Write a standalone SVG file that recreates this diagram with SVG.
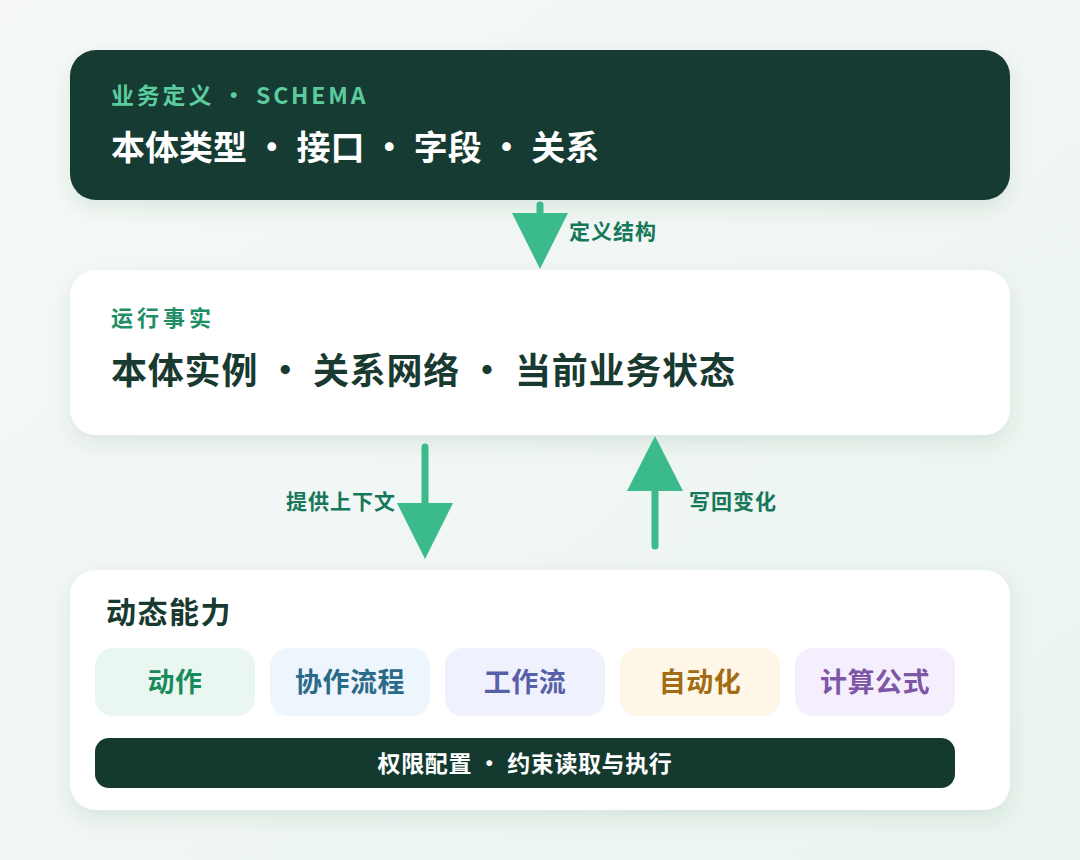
<svg xmlns="http://www.w3.org/2000/svg" width="1080" height="860" viewBox="0 0 1080 860">
<defs>
<linearGradient id="bg" x1="0" y1="0" x2="1" y2="1">
<stop offset="0" stop-color="#f6f9f8"/>
<stop offset="1" stop-color="#eaf4ef"/>
</linearGradient>
<filter id="sh" x="-10%" y="-20%" width="120%" height="150%">
<feDropShadow dx="0" dy="8" stdDeviation="10" flood-color="#1d4a3a" flood-opacity="0.10"/>
</filter>
</defs>
<style>
text{font-family:"Noto Sans CJK SC","Liberation Sans",sans-serif;font-weight:700}
.card{filter:url(#sh)}
.lbl{font-size:21px;fill:#17775a;letter-spacing:1px}
.line{stroke:#3bba8c;stroke-width:7;stroke-linecap:round;fill:none}
.head{fill:#3bba8c}
.chip text{font-size:27px;text-anchor:middle;letter-spacing:0.5px}
</style>
<rect width="1080" height="860" fill="url(#bg)"/>

<g id="schema">
<rect class="card" x="70" y="50" width="940" height="150" rx="26" fill="#183a30"/>
<text x="111" y="104" font-size="23" fill="#5ccc9e" letter-spacing="2.8" font-weight="500">业务定义 · SCHEMA</text>
<text x="111" y="160" font-size="34" fill="#ffffff">本体类型 · 接口 · 字段 · 关系</text>
</g>

<g id="facts">
<rect class="card" x="70" y="270" width="940" height="165" rx="26" fill="#ffffff"/>
<text x="111" y="326" font-size="22" fill="#1e8f65" font-weight="500" letter-spacing="4">运行事实</text>
<text x="111" y="384" font-size="36" fill="#183a30" letter-spacing="0.8">本体实例 · 关系网络 · 当前业务状态</text>
</g>

<g id="dynamic">
<rect class="card" x="70" y="570" width="940" height="240" rx="26" fill="#ffffff"/>
<text x="106" y="623" font-size="30" fill="#183a30" letter-spacing="1.5">动态能力</text>
<g class="chip" id="chip-action">
<rect x="95" y="648" width="160" height="68" rx="18" fill="#eaf7f1"/>
<text x="175" y="692" fill="#1a8a5d">动作</text>
</g>
<g class="chip" id="chip-collab">
<rect x="270" y="648" width="160" height="68" rx="18" fill="#edf5fd"/>
<text x="350" y="692" fill="#2c6a8a">协作流程</text>
</g>
<g class="chip" id="chip-workflow">
<rect x="445" y="648" width="160" height="68" rx="18" fill="#eff2fd"/>
<text x="525" y="692" fill="#5861a8">工作流</text>
</g>
<g class="chip" id="chip-auto">
<rect x="620" y="648" width="160" height="68" rx="18" fill="#fef6e6"/>
<text x="700" y="692" fill="#a16c14">自动化</text>
</g>
<g class="chip" id="chip-formula">
<rect x="795" y="648" width="160" height="68" rx="18" fill="#f5eefd"/>
<text x="875" y="692" fill="#7e56a6">计算公式</text>
</g>
<g id="perm">
<rect x="95" y="738" width="860" height="50" rx="14" fill="#143a30"/>
<text x="525" y="772" font-size="23" fill="#ffffff" text-anchor="middle" letter-spacing="0.6">权限配置 · 约束读取与执行</text>
</g>
</g>

<g id="connectors">
<line class="line" x1="540" y1="205" x2="540" y2="220"/>
<polygon class="head" points="512,213 568,213 540,269"/>
<text class="lbl" x="569" y="239">定义结构</text>

<line class="line" x1="425" y1="447" x2="425" y2="510"/>
<polygon class="head" points="397,503 453,503 425,559"/>
<text class="lbl" x="396" y="509" text-anchor="end">提供上下文</text>

<line class="line" x1="655" y1="546" x2="655" y2="485"/>
<polygon class="head" points="627,491 683,491 655,436"/>
<text class="lbl" x="689" y="509">写回变化</text>
</g>
</svg>
